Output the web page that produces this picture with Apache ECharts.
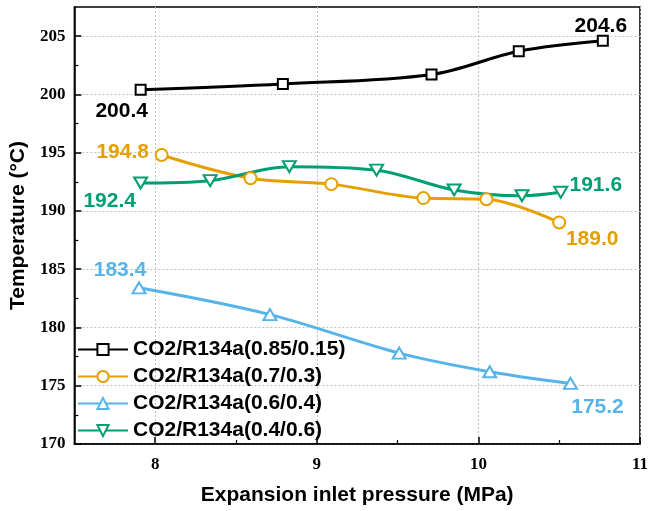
<!DOCTYPE html>
<html>
<head>
<meta charset="utf-8">
<script src="https://cdn.jsdelivr.net/npm/echarts@6/dist/echarts.min.js"></script>
<style>
  html, body { margin: 0; padding: 0; background: #fff; }
  #chart { width: 651px; height: 511px; }
</style>
</head>
<body>
<div id="chart"></div>
<script>
// Mixture ratios (CO2/R134a mass fractions)
const seriesNames = [
  'CO2/R134a(0.85/0.15)',
  'CO2/R134a(0.7/0.3)',
  'CO2/R134a(0.6/0.4)',
  'CO2/R134a(0.4/0.6)'
];

// Expansion inlet pressure (MPa) and temperature (°C) for each mixture
const pressure085 = [7.91, 8.79, 9.71, 10.25, 10.77];
const temp085     = [200.4, 200.9, 201.7, 203.7, 204.6];

const pressure07  = [8.04, 8.59, 9.09, 9.66, 10.05, 10.50];
const temp07      = [194.8, 192.8, 192.3, 191.1, 191.0, 189.0];

const pressure06  = [7.90, 8.71, 9.51, 10.07, 10.57];
const temp06      = [183.4, 181.1, 177.8, 176.2, 175.2];

const pressure04  = [7.91, 8.34, 8.83, 9.37, 9.85, 10.27, 10.51];
const temp04      = [192.4, 192.6, 193.8, 193.5, 191.8, 191.3, 191.6];

// Tick labels
const xTickValues = [8, 9, 10, 11];
const xMinorTickValues = [8.5, 9.5, 10.5];
const yTickValues = [170, 175, 180, 185, 190, 195, 200, 205];
const yMinorTickValues = [172.5, 177.5, 182.5, 187.5, 192.5, 197.5, 202.5];

const colors = ['#000000', '#E69F00', '#56B4E9', '#009E73'];
const sansBold = { fontFamily: '"Liberation Sans", Arial, sans-serif', fontWeight: 'bold' };
const serifBold = { fontFamily: '"Liberation Serif", "Times New Roman", serif', fontWeight: 'bold' };

// Endpoint annotations: the first and last point of each curve carry a value label
function endLabels(n, firstOffset, lastOffset) {
  return { first: 0, last: n - 1, firstOffset, lastOffset };
}

function buildData(xs, ys, color, spec) {
  return xs.map((x, i) => {
    const item = { value: [x, ys[i]] };
    let off = null;
    if (i === spec.first) off = spec.firstOffset;
    if (i === spec.last) off = spec.lastOffset;
    if (off) {
      item.label = {
        show: true,
        position: 'inside',
        offset: off,
        align: 'center',
        verticalAlign: 'middle',
        color: color,
        fontSize: 21,
        ...sansBold,
        formatter: p => p.value[1].toFixed(1)
      };
    }
    return item;
  });
}

function lineSeries(name, xs, ys, color, symbol, size, rotate, spec) {
  return {
    name: name,
    type: 'line',
    smooth: 0.35,
    symbol: symbol,
    symbolSize: size,
    symbolRotate: rotate,
    showAllSymbol: true,
    lineStyle: { color: color, width: 3 },
    itemStyle: { color: '#fff', borderColor: color, borderWidth: 2 },
    emphasis: { disabled: true },
    z: 3,
    data: buildData(xs, ys, color, spec)
  };
}

const gridLine = { show: true, lineStyle: { color: '#c0c0c0', type: [2, 2], width: 1 } };

const chart = echarts.init(document.getElementById('chart'), null, { renderer: 'canvas' });

chart.setOption({
  animation: false,
  backgroundColor: '#fff',
  color: colors,
  grid: {
    left: 71, right: 7, top: 7, bottom: 65.5,
    show: true, borderColor: '#000', borderWidth: 1.5, backgroundColor: 'transparent'
  },
  legend: {
    orient: 'vertical',
    left: 77,
    top: 339,
    padding: 0,
    itemWidth: 50,
    itemHeight: 14,
    itemGap: 6,
    textStyle: { color: '#000', fontSize: 21, lineHeight: 21, ...sansBold },
    data: seriesNames
  },
  xAxis: [
    {
      type: 'value',
      min: 7.5, max: 11, interval: 0.5,
      name: 'Expansion inlet pressure (MPa)',
      nameLocation: 'middle',
      nameGap: 41,
      nameTextStyle: { color: '#000', fontSize: 21, ...sansBold },
      axisLine: { show: true, lineStyle: { color: '#000', width: 1.5 } },
      axisTick: { show: true, inside: true, length: 7, customValues: xTickValues, lineStyle: { color: '#000', width: 1.5 } },
      axisLabel: { show: true, customValues: xTickValues, margin: 12, color: '#000', fontSize: 17, ...serifBold },
      splitLine: gridLine
    },
    {
      type: 'value',
      min: 7.5, max: 11, interval: 0.5,
      position: 'bottom',
      axisLine: { show: false },
      axisTick: { show: true, inside: true, length: 4, customValues: xMinorTickValues, lineStyle: { color: '#000', width: 1.2 } },
      axisLabel: { show: false },
      splitLine: { show: false }
    }
  ],
  yAxis: [
    {
      type: 'value',
      min: 170, max: 207.5, interval: 2.5,
      name: 'Temperature (°C)',
      nameLocation: 'middle',
      nameGap: 39,
      nameTextStyle: { color: '#000', fontSize: 21, ...sansBold },
      axisLine: { show: true, lineStyle: { color: '#000', width: 1.5 } },
      axisTick: { show: true, inside: true, length: 7, customValues: yTickValues, lineStyle: { color: '#000', width: 1.5 } },
      axisLabel: { show: true, customValues: yTickValues, margin: 9, color: '#000', fontSize: 17, ...serifBold },
      splitLine: gridLine
    },
    {
      type: 'value',
      min: 170, max: 207.5, interval: 2.5,
      position: 'left',
      axisLine: { show: false },
      axisTick: { show: true, inside: true, length: 4, customValues: yMinorTickValues, lineStyle: { color: '#000', width: 1.2 } },
      axisLabel: { show: false },
      splitLine: { show: false }
    }
  ],
  series: [
    lineSeries(seriesNames[0], pressure085, temp085, colors[0], 'rect', 10, 0,
      endLabels(pressure085.length, [-19, 21], [-2, -15])),
    lineSeries(seriesNames[1], pressure07, temp07, colors[1], 'circle', 12, 0,
      endLabels(pressure07.length, [-39, -3], [33, 17])),
    lineSeries(seriesNames[2], pressure06, temp06, colors[2], 'triangle', [13, 11], 0,
      endLabels(pressure06.length, [-19, -18], [27, 24])),
    lineSeries(seriesNames[3], pressure04, temp04, colors[3], 'triangle', [13, 11], 180,
      endLabels(pressure04.length, [-31, 18], [35, -7]))
  ]
});
</script>
</body>
</html>
